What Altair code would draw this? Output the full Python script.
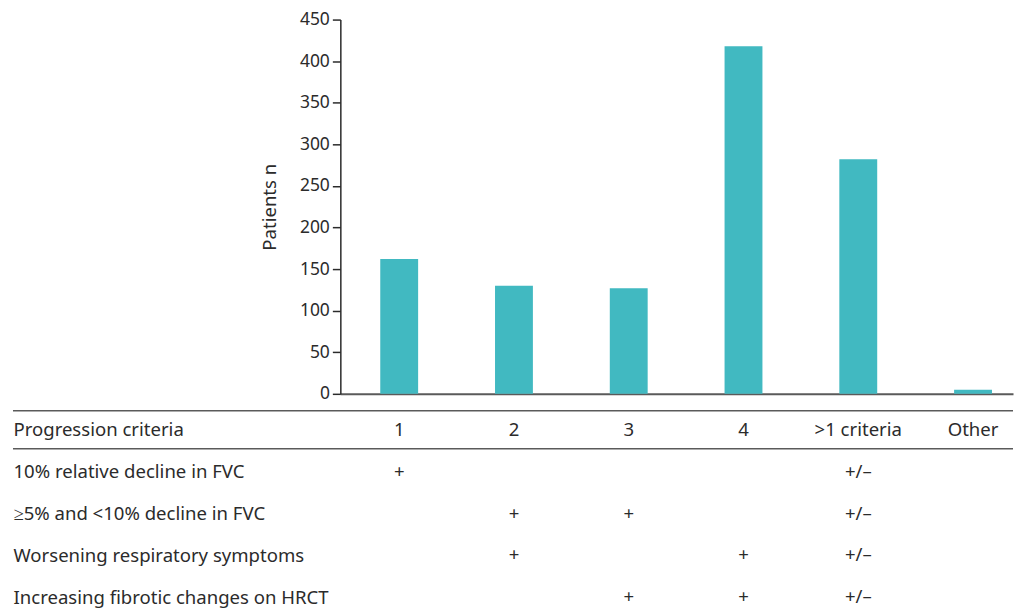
import altair as alt
import pandas as pd

# ---- data ----
categories = ["1", "2", "3", "4", ">1 criteria", "Other"]
patients = [162, 130, 127, 418, 282, 5]

header_label = "Progression criteria"
row_labels = [
    "10% relative decline in FVC",
    "\u22655% and <10% decline in FVC",
    "Worsening respiratory symptoms",
    "Increasing fibrotic changes on HRCT",
]
row1_marks = ["+", "", "", "", "+/\u2013", ""]
row2_marks = ["", "+", "+", "", "+/\u2013", ""]
row3_marks = ["", "+", "", "+", "+/\u2013", ""]
row4_marks = ["", "", "+", "+", "+/\u2013", ""]

TEXT = "#2b2b2b"
LINE = "#5a5a5a"
BAR = "#41B9C1"
FONT = "Noto Sans"
FS = 18.6

bars_df = pd.DataFrame({"cat": categories, "n": patients})

cells = []
for c in categories:
    cells.append({"row": header_label, "cat": c, "txt": c})
for lab, marks in zip(row_labels, [row1_marks, row2_marks, row3_marks, row4_marks]):
    for c, m in zip(categories, marks):
        if m:
            cells.append({"row": lab, "cat": c, "txt": m})
cells_df = pd.DataFrame(cells)
row_order = [header_label] + row_labels

W = 674
xscale = alt.Scale(type="band", domain=categories, paddingInner=0.67,
                   paddingOuter=0.2655, align=0.655)

top = alt.Chart(bars_df).mark_bar(color=BAR).encode(
    x=alt.X("cat:N", sort=categories, scale=xscale,
            axis=alt.Axis(labels=False, ticks=False, title=None, domain=True,
                          domainColor=LINE, domainWidth=2)),
    y=alt.Y("n:Q", scale=alt.Scale(domain=[0, 450], nice=False),
            axis=alt.Axis(values=list(range(0, 451, 50)), title="Patients n",
                          titleFont=FONT, titleFontSize=FS, titleFontWeight="normal",
                          titleColor=TEXT, titlePadding=20,
                          labelFont=FONT, labelFontSize=17.5, labelColor=TEXT,
                          labelPadding=3, tickSize=8, tickColor=TEXT, tickWidth=1.5,
                          domainColor=TEXT, domainWidth=1.5, grid=False)),
).properties(width=W, height=375)

H = 196
yscale = alt.Scale(type="point", domain=row_order, padding=0.333, align=0.714)

table_text = alt.Chart(cells_df).mark_text(font=FONT, fontSize=FS, color=TEXT, baseline="middle").encode(
    x=alt.X("cat:N", sort=categories, scale=xscale, axis=None),
    y=alt.Y("row:N", sort=row_order, scale=yscale,
            axis=alt.Axis(title=None, domain=False, ticks=False, tickSize=0,
                          labelAlign="left", labelPadding=328, labelLimit=500,
                          labelFont=FONT, labelFontSize=FS, labelColor=TEXT,
                          labelBaseline="middle")),
    text="txt:N",
)

sep_df = pd.DataFrame({"line": ["top", "header"]})
rule_top = alt.Chart(sep_df).transform_filter(alt.datum.line == "top").mark_rule(
    color=LINE, strokeWidth=1.5).encode(
    x=alt.value(-328), x2=alt.value(W), y=alt.value(1))
rule_head = alt.Chart(sep_df).transform_filter(alt.datum.line == "header").mark_rule(
    color=LINE, strokeWidth=1.5).encode(
    x=alt.value(-328), x2=alt.value(W), y=alt.value(39))

bottom = alt.layer(table_text, rule_top, rule_head).properties(width=W, height=H)

chart = alt.vconcat(top, bottom, spacing=16, bounds="flush").properties(
    padding={"left": 4, "top": 2, "right": 0, "bottom": 0}
).configure_view(stroke=None)

chart.save("out.html", embed_options={"renderer": "svg", "actions": False})
